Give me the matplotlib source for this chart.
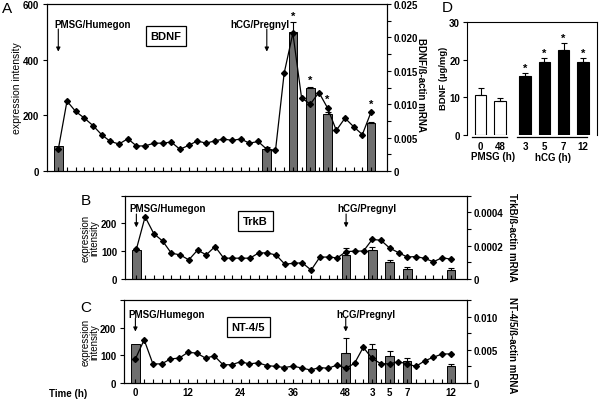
import matplotlib
matplotlib.use('Agg')
import matplotlib.pyplot as plt
import numpy as np

plt.rcParams['font.family'] = ['Liberation Sans', 'DejaVu Sans']
plt.rcParams['axes.linewidth'] = 0.8

# ---------------- data ----------------
time_tick_pos = [0, 6, 12, 18, 24, 27, 29, 31, 36]
time_tick_labels = ['0', '12', '24', '36', '48', '3', '5', '7', '12']
bar_idx = [0, 24, 27, 29, 31, 36]

bdnf_intensity = [78, 251, 214, 190, 163, 130, 106, 97, 116, 90, 90, 100, 100, 104,
                  78, 92, 108, 100, 108, 115, 110, 115, 100, 106, 78, 74, 352, 495,
                  263, 240, 282, 226, 146, 190, 159, 131, 212]
bdnf_mrna = [0.0037, 0.0033, 0.0208, 0.0124, 0.0086, 0.0072]
bdnf_mrna_err = [0.0, 0.0003, 0.0015, 0.0002, 0.0003, 0.0002]
bdnf_star_idx = [27, 29, 31, 36]
bdnf_star_val = [559, 328, 259, 240]

trkb_intensity = [107, 224, 163, 137, 93, 87, 69, 104, 87, 117, 75, 75, 75, 75,
                  94, 94, 86, 53, 57, 58, 32, 79, 79, 76, 99, 100, 101, 143,
                  139, 111, 95, 79, 81, 74, 62, 77, 71]
trkb_mrna = [0.000173, 0.000145, 0.000175, 0.000105, 0.000062, 0.000056]
trkb_mrna_err = [0.0, 0.00004, 0.00002, 0.00001, 0.000013, 0.00001]

nt45_intensity = [87, 156, 69, 69, 87, 90, 111, 108, 90, 98, 66, 66, 77, 69,
                  73, 63, 60, 56, 61, 54, 47, 56, 53, 65, 53, 71, 129, 89,
                  70, 69, 77, 69, 60, 80, 93, 105, 105]
nt45_mrna = [0.00583, 0.00458, 0.00508, 0.00413, 0.00333, 0.0025]
nt45_mrna_err = [0.0, 0.0022, 0.00075, 0.0007, 0.0005, 0.00038]

d_labels = ['0', '48', '3', '5', '7', '12']
d_values = [10.6, 8.9, 15.6, 19.5, 22.6, 19.3]
d_err = [2.0, 0.9, 0.9, 1.0, 1.7, 1.1]
d_colors = ['white', 'white', 'black', 'black', 'black', 'black']
d_star = [False, False, True, True, True, True]

# ---------------- figure ----------------
W, H = 599, 402
fig = plt.figure(figsize=(W / 100, H / 100), dpi=100)


def px_axes(x0, y0, x1, y1):
    return fig.add_axes([x0 / W, 1 - y1 / H, (x1 - x0) / W, (y1 - y0) / H])


def ftext(x, y, s, **kw):
    return fig.text(x / W, 1 - y / H, s, **kw)


bar_gray = '#6f6f6f'
TFS = 7


def time_panel(box, intensity, mrna, err, rmax, rmajor, rlabels, rminor,
               lmax, lticks, llabels, show_x, name, name_pos, name_y,
               txt_y, arr_top, arr_bot, pmsg_x, hcg_x):
    ax = px_axes(*box)
    axr = ax.twinx()
    ax.set_zorder(axr.get_zorder() + 1)
    ax.patch.set_visible(False)

    axr.bar(bar_idx, mrna, width=1.0, color=bar_gray, edgecolor='black',
            linewidth=0.7, zorder=2)
    ex = [b for b, e in zip(bar_idx, err) if e > 0]
    ey = [m for m, e in zip(mrna, err) if e > 0]
    ee = [e for e in err if e > 0]
    axr.errorbar(ex, ey, yerr=[np.zeros(len(ee)), ee], fmt='none',
                 ecolor='black', elinewidth=0.8, capsize=2.2, capthick=0.8, zorder=3)

    t = np.arange(len(intensity))
    ax.plot(t, intensity, '-', color='black', lw=0.9, marker='D', ms=3,
            mfc='black', mec='black', zorder=4)

    ax.set_xlim(-1.3, 37.8)
    ax.set_ylim(0, lmax)
    axr.set_ylim(0, rmax)

    ax.set_xticks(t)
    labs = [''] * len(t)
    if show_x:
        for p, l in zip(time_tick_pos, time_tick_labels):
            labs[p] = l
    ax.set_xticklabels(labs, fontsize=TFS, fontweight='bold')
    ax.tick_params(axis='x', direction='in', length=3, width=0.8, pad=3)

    ax.set_yticks(lticks)
    ax.set_yticklabels(llabels, fontsize=TFS, fontweight='bold')
    ax.tick_params(axis='y', direction='out', length=3, width=0.8, pad=2.5)

    axr.set_yticks(rmajor)
    axr.set_yticklabels(rlabels, fontsize=TFS, fontweight='bold')
    axr.set_yticks(rminor, minor=True)
    axr.tick_params(axis='y', which='both', direction='out', length=3, width=0.8, pad=2)

    # treatment labels & arrows
    ax.text(pmsg_x, txt_y, 'PMSG/Humegon', transform=ax.get_xaxis_transform(),
            fontsize=TFS, fontweight='bold', ha='left', va='center')
    ax.text(hcg_x, txt_y, 'hCG/Pregnyl', transform=ax.get_xaxis_transform(),
            fontsize=TFS, fontweight='bold', ha='center', va='center')
    for xa in (0, 24):
        ax.annotate('', xy=(xa, arr_bot), xytext=(xa, arr_top),
                    xycoords=('data', 'axes fraction'),
                    textcoords=('data', 'axes fraction'),
                    arrowprops=dict(arrowstyle='-|>', color='black', lw=0.8,
                                    mutation_scale=6, shrinkA=0, shrinkB=0))
    ax.text(name_pos, name_y, name, transform=ax.get_xaxis_transform(),
            fontsize=8, fontweight='bold', ha='center', va='center',
            bbox=dict(boxstyle='square,pad=0.45', fc='white', ec='black', lw=0.9))
    return ax, axr


# Panel A
axA, axAr = time_panel((47, 5, 386.7, 172), bdnf_intensity, bdnf_mrna, bdnf_mrna_err,
                       0.025, [0, 0.005, 0.010, 0.015, 0.020, 0.025],
                       ['0', '0.005', '0.010', '0.015', '0.020', '0.025'],
                       [0.0025, 0.0075, 0.0125, 0.0175, 0.0225],
                       600, [0, 200, 400, 600], ['0', '200', '400', '600'],
                       False, 'BDNF', 12.4, 0.81, 0.88, 0.85, 0.715, -0.45, 23.2)
for i, v in zip(bdnf_star_idx, bdnf_star_val):
    axA.text(i, v, '*', fontsize=8, fontweight='bold', ha='center', va='center')

# Panel B
axB, axBr = time_panel((125, 196.7, 466.7, 280), trkb_intensity, trkb_mrna, trkb_mrna_err,
                       0.0005, [0, 0.0002, 0.0004], ['0', '0.0002', '0.0004'],
                       [0.0001, 0.0003, 0.0005],
                       300, [0, 100, 200, 300], ['0', '100', '200', ''],
                       False, 'TrkB', 13.6, 0.70, 0.85, 0.78, 0.62, -0.85, 26.4)

# Panel C
axC, axCr = time_panel((124, 301, 466.7, 384), nt45_intensity, nt45_mrna, nt45_mrna_err,
                       0.0125, [0, 0.005, 0.010], ['0', '0.005', '0.010'],
                       [0.0025, 0.0075, 0.0125],
                       300, [0, 100, 200, 300], ['0', '100', '200', ''],
                       True, 'NT-4/5', 12.9, 0.67, 0.83, 0.78, 0.62, -0.85, 26.3)

# axis titles
ftext(17, 88, 'expression intensity', rotation=90, fontsize=7.5, ha='center', va='center')
ftext(90, 238, 'expression\nintensity', rotation=90, fontsize=7, ha='center', va='center',
      linespacing=0.95)
ftext(90, 342, 'expression\nintensity', rotation=90, fontsize=7, ha='center', va='center',
      linespacing=0.95)
ftext(421, 85, 'BDNF/ß-actin mRNA', rotation=270, fontsize=7, fontweight='bold',
      ha='center', va='center')
ftext(512, 237, 'TrkB/ß-actin mRNA', rotation=270, fontsize=7, fontweight='bold',
      ha='center', va='center')
ftext(512, 345, 'NT-4/5/ß-actin mRNA', rotation=270, fontsize=7, fontweight='bold',
      ha='center', va='center')
ftext(68, 394, 'Time (h)', fontsize=TFS, fontweight='bold', ha='center', va='center')

# panel letters
ftext(7, 9, 'A', fontsize=11, ha='center', va='center')
ftext(86, 201, 'B', fontsize=11, ha='center', va='center')
ftext(86, 308, 'C', fontsize=11, ha='center', va='center')
ftext(447, 8, 'D', fontsize=11, ha='center', va='center')

# Panel D
axD = px_axes(467, 23, 597, 136)
d_x = [0, 1, 2.3, 3.3, 4.3, 5.3]
axD.bar(d_x, d_values, width=0.6, color=d_colors, edgecolor='black', linewidth=0.8, zorder=2)
axD.errorbar(d_x, d_values, yerr=[np.zeros(len(d_err)), d_err], fmt='none', ecolor='black',
             elinewidth=0.8, capsize=2.5, capthick=0.8, zorder=3)
for x, v, e, s in zip(d_x, d_values, d_err, d_star):
    if s:
        axD.text(x, v + e + 1.4, '*', fontsize=8, fontweight='bold', ha='center', va='center')
axD.set_xlim(-0.71, 6.03)
axD.set_ylim(0, 30)
axD.set_yticks([0, 10, 20, 30])
axD.set_yticklabels(['0', '10', '20', '30'], fontsize=TFS, fontweight='bold')
axD.tick_params(axis='y', direction='out', length=3, width=0.8, pad=2)
axD.spines['bottom'].set_visible(False)
axD.set_xticks(d_x)
axD.set_xticklabels(d_labels, fontsize=TFS, fontweight='bold')
axD.tick_params(axis='x', length=0, pad=4)
tr = axD.get_xaxis_transform()
axD.plot([-0.45, 1.36], [-0.02, -0.02], color='black', lw=0.9, transform=tr, clip_on=False)
axD.plot([1.88, 5.5], [-0.02, -0.02], color='black', lw=0.9, transform=tr, clip_on=False)
ftext(493, 157.5, 'PMSG (h)', fontsize=TFS, fontweight='bold', ha='center', va='center')
ftext(553, 158, 'hCG (h)', fontsize=TFS, fontweight='bold', ha='center', va='center')
ftext(443, 78, 'BDNF (µg/mg)', rotation=90, fontsize=6.8, fontweight='bold',
      ha='center', va='center')

fig.savefig('out.png', dpi=100)
